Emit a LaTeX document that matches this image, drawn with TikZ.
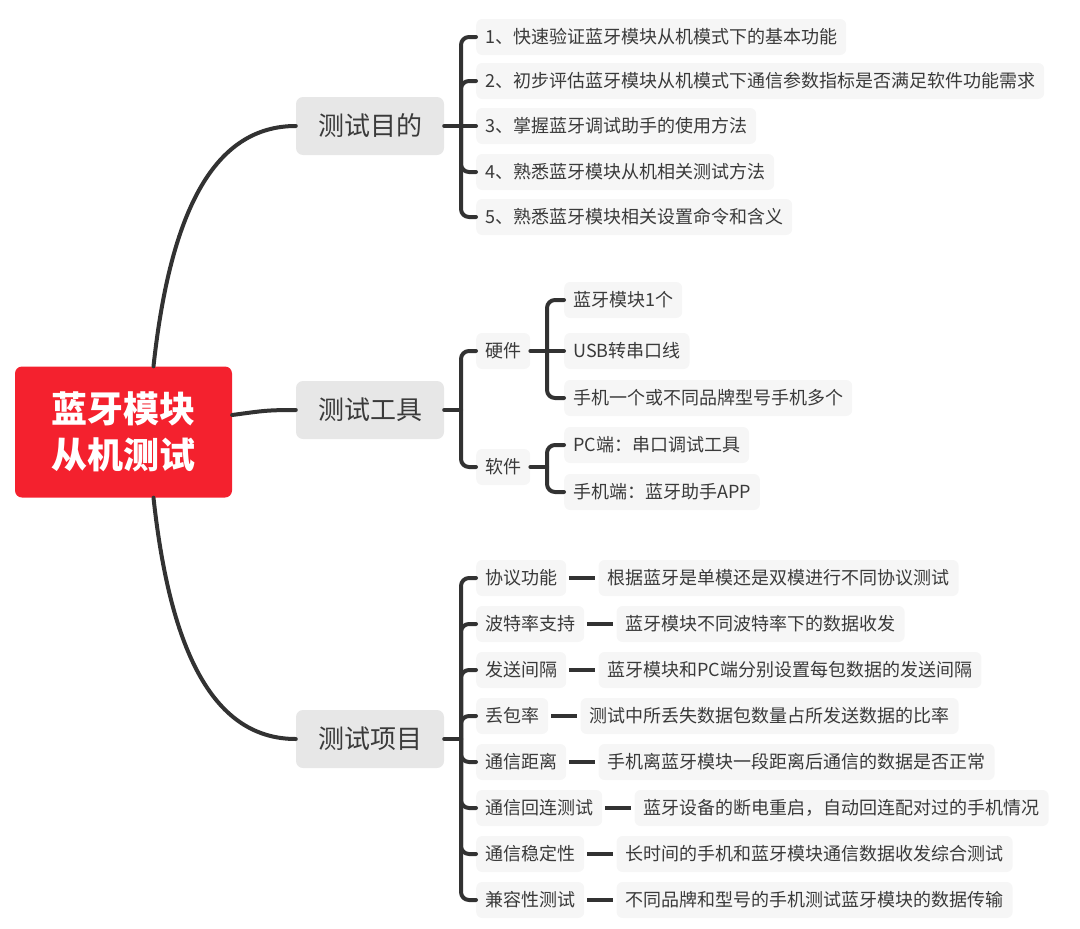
\documentclass[tikz,border=0pt]{standalone}
\usepackage{fontspec}
\setmainfont{Noto Sans CJK SC}
\usetikzlibrary{positioning}

\definecolor{rootred}{RGB}{244,33,46}
\definecolor{linegray}{RGB}{50,50,50}
\definecolor{maingray}{RGB}{231,231,231}
\definecolor{leafgray}{RGB}{246,246,246}
\definecolor{textgray}{RGB}{58,58,58}

\tikzset{
  rootbox/.style={fill=rootred, rounded corners=7, text=white, align=center,
    minimum width=217, minimum height=131, font=\fontsize{36}{46}\selectfont\bfseries},
  mainbox/.style={fill=maingray, rounded corners=7, text=textgray,
    minimum width=148, minimum height=58, font=\fontsize{26}{30}\selectfont},
  leaf/.style={fill=leafgray, rounded corners=6, text=textgray, inner xsep=9,
    minimum height=36, font=\fontsize{18}{22}\selectfont},
  link/.style={draw=linegray, line width=4},
  brace/.style={draw=linegray, line width=4, rounded corners=8},
}

\begin{document}
\begin{tikzpicture}[line cap=round, line join=round, x=1pt, y=-1pt]

                \useasboundingbox (0,0) rectangle (1080,929);

                \node[rootbox] (root) at (123.5,432) {蓝牙模块\\从机测试};

                \node[mainbox] (aim) at (370,126) {测试目的};
                \node[mainbox] (tool) at (370,410) {测试工具};
                \node[mainbox] (item) at (370,739) {测试项目};

                \draw[link] ([xshift=30]root.north) .. controls +(17,-157) and +(-81,0) .. (aim.west);
                \draw[link] ([yshift=17]root.east) .. controls +(30,-4) and +(-30,0) .. (tool.west);
                \draw[link] ([xshift=30]root.south) .. controls +(17,157) and +(-81,0) .. (item.west);

                \foreach \i/\y/\t in {1/37/{1、快速验证蓝牙模块从机模式下的基本功能},
                                      2/81/{2、初步评估蓝牙模块从机模式下通信参数指标是否满足软件功能需求},
                                      3/126/{3、掌握蓝牙调试助手的使用方法},
                                      4/172/{4、熟悉蓝牙模块从机相关测试方法},
                                      5/217/{5、熟悉蓝牙模块相关设置命令和含义}}
                    \node[leaf, anchor=west] (aim\i) at (476,\y) {\t};

                \coordinate (aimj) at (461,126);
                \draw[link] (aim.east) -- (aimj) -- (aim3.west);
                \foreach \i in {1,2,4,5}
                    \draw[brace] (aimj) |- (aim\i.west);

                \node[leaf, anchor=west] (hw) at (476,351) {硬件};
                \node[leaf, anchor=west] (sw) at (476,467) {软件};
                \coordinate (toolj) at (461,410);
                \draw[link] (tool.east) -- (toolj);
                \draw[brace] (toolj) |- (hw.west);
                \draw[brace] (toolj) |- (sw.west);

                \node[leaf, anchor=west] (hw1) at (564,300) {蓝牙模块1个};
                \node[leaf, anchor=west] (hw2) at (564,351) {USB转串口线};
                \node[leaf, anchor=west] (hw3) at (564,398) {手机一个或不同品牌型号手机多个};
                \coordinate (hwj) at (547,351);
                \draw[link] (hw.east) -- (hwj) -- (hw2.west);
                \draw[brace] (hwj) |- (hw1.west);
                \draw[brace] (hwj) |- (hw3.west);

                \node[leaf, anchor=west] (sw1) at (564,445) {PC端：串口调试工具};
                \node[leaf, anchor=west] (sw2) at (564,492) {手机端：蓝牙助手APP};
                \coordinate (swj) at (547,467);
                \draw[link] (sw.east) -- (swj);
                \draw[brace] (swj) |- (sw1.west);
                \draw[brace] (swj) |- (sw2.west);

                \coordinate (itemj) at (461,739);
                \draw[link] (item.east) -- (itemj);
                \foreach \i/\y/\k/\d in {1/578/{协议功能}/{根据蓝牙是单模还是双模进行不同协议测试},
                                         2/624/{波特率支持}/{蓝牙模块不同波特率下的数据收发},
                                         3/670/{发送间隔}/{蓝牙模块和PC端分别设置每包数据的发送间隔},
                                         4/716/{丢包率}/{测试中所丢失数据包数量占所发送数据的比率},
                                         5/762/{通信距离}/{手机离蓝牙模块一段距离后通信的数据是否正常},
                                         6/808/{通信回连测试}/{蓝牙设备的断电重启，自动回连配对过的手机情况},
                                         7/854/{通信稳定性}/{长时间的手机和蓝牙模块通信数据收发综合测试},
                                         8/900/{兼容性测试}/{不同品牌和型号的手机测试蓝牙模块的数据传输}}
                {
                    \node[leaf, anchor=west] (key\i) at (476,\y) {\k};
                    \node[leaf, right=32 of key\i] (desc\i) {\d};
                    \draw[link, line cap=butt, shorten <=3, shorten >=3] (key\i) -- (desc\i);
                    \draw[brace] (itemj) |- (key\i.west);
                }

            \end{tikzpicture}
\end{document}
